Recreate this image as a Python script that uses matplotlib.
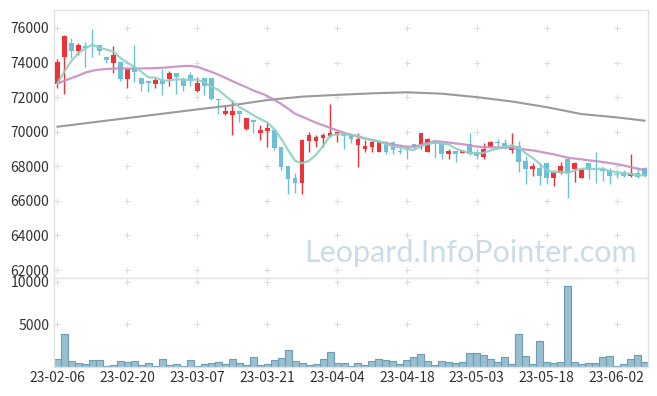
import numpy as np
import pandas as pd
import matplotlib
matplotlib.use("Agg")
import matplotlib.pyplot as plt

plt.rcParams['font.family'] = ['Noto Sans CJK KR', 'DejaVu Sans']

# 일봉 데이터 (23-02-06 ~ 23-06-09, 85 거래일)
opens = [72760, 74300, 75130, 74690, 74950, 75100, 75020, 74340, 74000, 74030,
         73050, 73630, 73090, 72940, 72780, 72990, 73070, 73420, 73030, 73280,
         72380, 73110, 73110, 71890, 71040, 70990, 71200, 70180, 70680, 69950,
         70060, 70100, 69120, 68020, 67340, 67050, 69480, 69480, 69660, 69770,
         69880, 69950, 69810, 69250, 68980, 69140, 68850, 69390, 69390, 68900,
         69040, 69270, 69270, 68850, 69420, 69330, 68690, 68890, 68790, 69270,
         68850, 68560, 69140, 69420, 69370, 68940, 69170, 68330, 67840, 67880,
         68210, 67340, 67630, 68400, 67820, 67340, 68210, 67900, 67820, 67790,
         67560, 67690, 67440, 67590, 67880]
highs = [74190, 75610, 75400, 75110, 75200, 75920, 75020, 74340, 74980, 74030,
         73670, 75020, 73090, 72940, 73090, 73610, 73530, 73420, 73150, 73480,
         73190, 73110, 73110, 71890, 71550, 71840, 71200, 70780, 70680, 70390,
         70490, 70100, 69120, 68020, 67630, 69560, 70000, 69810, 69910, 71600,
         70000, 69950, 69950, 69950, 69520, 69560, 69480, 69480, 69390, 69230,
         69170, 69270, 69950, 69620, 69420, 69330, 68980, 68890, 68940, 69950,
         68980, 69370, 69440, 69560, 69560, 69910, 69480, 68600, 68170, 68170,
         68210, 67790, 68270, 68400, 68270, 67880, 68210, 68810, 67980, 67880,
         67790, 67790, 68710, 67980, 67980]
lows = [72550, 72180, 74250, 74440, 73760, 74300, 74440, 73960, 73380, 72950,
        72510, 72900, 72380, 72280, 72510, 72130, 72670, 72180, 72380, 72670,
        72320, 72120, 71840, 71030, 70970, 69810, 70580, 70100, 69910, 69520,
        69100, 68940, 67790, 66400, 66480, 66400, 68810, 69100, 69100, 69710,
        69390, 68980, 69370, 67980, 68810, 68850, 68810, 68710, 68710, 68710,
        68400, 68980, 68980, 68810, 68460, 68400, 68400, 68230, 68750, 68650,
        68400, 68400, 69100, 69170, 68980, 68790, 67650, 66980, 67460, 66920,
        66980, 66860, 67540, 66150, 67070, 67300, 67270, 67020, 67170, 66980,
        67300, 67360, 67400, 67300, 67360]
closes = [74050, 75540, 74690, 75020, 74850, 75050, 74690, 74150, 74440, 73050,
          73610, 73480, 72780, 72800, 72990, 72780, 73420, 73190, 72670, 72950,
          72840, 72660, 71870, 71850, 71200, 71200, 71040, 70770, 70580, 70100,
          70240, 69080, 67980, 67270, 67030, 69520, 69810, 69710, 69810, 69950,
          70000, 69770, 69560, 69580, 69170, 69420, 69420, 68850, 68940, 68850,
          68940, 69170, 69910, 69560, 69270, 68690, 68890, 68690, 68890, 68690,
          68620, 69000, 69420, 69370, 69170, 69140, 68270, 67840, 68020, 67440,
          67300, 67690, 68020, 67590, 68210, 67790, 67790, 67820, 67750, 67460,
          67500, 67440, 67630, 67360, 67460]
volumes = [900, 3830, 660, 430, 310, 780, 780, 80, 200, 660,
           550, 660, 200, 430, 80, 900, 200, 310, 80, 780,
           80, 310, 430, 550, 310, 900, 430, 200, 1130, 200,
           310, 780, 1020, 1950, 660, 430, 200, 310, 900, 1720,
           430, 430, 80, 430, 200, 660, 900, 780, 660, 310,
           780, 1130, 1480, 660, 200, 660, 550, 430, 550, 1600,
           1600, 1370, 900, 550, 1130, 310, 3830, 1250, 310, 3010,
           550, 430, 550, 9450, 550, 310, 430, 430, 1130, 1250,
           80, 310, 900, 1370, 550]

# 이동평균: 차트 시작 이전 구간은 그림에서 읽은 값
ma5_head = [72800, 73500, 74100, 74550]
ma20_head = [72800, 72950, 73100, 73250, 73420, 73530, 73590, 73630, 73650, 73660,
             73660, 73660, 73660, 73670, 73680, 73700, 73730, 73770, 73800]
ma120_idx = [0, 5, 10, 15, 20, 25, 30, 35, 40, 45, 50, 55, 60, 65, 70, 75, 80, 84]
ma120_val = [70290, 70540, 70790, 71040, 71290, 71530, 71830, 72030, 72130, 72220,
             72280, 72200, 72000, 71750, 71420, 71020, 70830, 70640]

tick_pos = [0, 10, 20, 30, 40, 50, 60, 70, 80]
tick_labels = ['23-02-06', '23-02-20', '23-03-07', '23-03-21', '23-04-04',
               '23-04-18', '23-05-03', '23-05-18', '23-06-02']
price_ticks = [62000, 64000, 66000, 68000, 70000, 72000, 74000, 76000]
vol_ticks = [5000, 10000]

UP = '#ee3338'
DOWN = '#6cc0d8'
n = len(closes)
x = np.arange(n)
cl = pd.Series(closes, dtype=float)
ma5 = cl.rolling(5).mean().values
ma5[:4] = ma5_head
ma20 = cl.rolling(20).mean().values
ma20[:19] = ma20_head

fig = plt.figure(figsize=(6.57, 3.96), dpi=100)
ax = fig.add_axes([54/657, 1-278/396, 594/657, 268/396])
axv = fig.add_axes([54/657, 1-367/396, 594/657, 89/396])

for a in (ax, axv):
    for s in a.spines.values():
        s.set_color('#e2e2e2')
        s.set_linewidth(1)
    a.tick_params(length=0, labelsize=10, colors='#333333')
    a.set_xlim(-0.5, n - 0.5)

# 격자 '+' 표시
gx, gy = np.meshgrid(tick_pos, price_ticks)
ax.plot(gx.ravel(), gy.ravel(), '+', color='#dddddd', ms=4, mew=0.8, zorder=0)
gx, gy = np.meshgrid(tick_pos, vol_ticks)
axv.plot(gx.ravel(), gy.ravel(), '+', color='#dddddd', ms=4, mew=0.8, zorder=0)

ax.text(82.9, 62450, 'Leopard.InfoPointer.com', ha='right', va='baseline',
        fontsize=22, color='#c9dce8', family=['Lato', 'DejaVu Sans'], zorder=1)

w = 0.68
for i in range(n):
    o, h, l, c = opens[i], highs[i], lows[i], closes[i]
    col = UP if c >= o else DOWN
    ax.vlines(i, l, h, color=col, lw=1, zorder=2)
    bot = min(o, c)
    hgt = max(abs(c - o), 40)
    ax.bar(i, hgt, width=w, bottom=bot, color=col, lw=0, zorder=3)

ax.plot(ma120_idx, ma120_val, color='#9a9a9a', lw=1.5, zorder=4)
ax.plot(x, ma20, color='#c88dc4', lw=1.6, alpha=0.9, zorder=4)
ax.plot(x, ma5, color='#8fd0c3', lw=1.6, alpha=0.9, zorder=4)

ax.set_ylim(61540, 77040)
ax.set_yticks(price_ticks)
ax.set_yticklabels([str(t) for t in price_ticks])
ax.set_xticks([])

axv.bar(x, volumes, width=1.0, color='#98bfd0', edgecolor='#6b9db4', lw=0.8)
axv.set_ylim(0, 10430)
axv.set_yticks(vol_ticks)
axv.set_yticklabels([str(t) for t in vol_ticks])
axv.set_xticks(tick_pos)
axv.set_xticklabels(tick_labels)
axv.tick_params(axis='x', pad=3)

fig.savefig('out.png', dpi=100)
